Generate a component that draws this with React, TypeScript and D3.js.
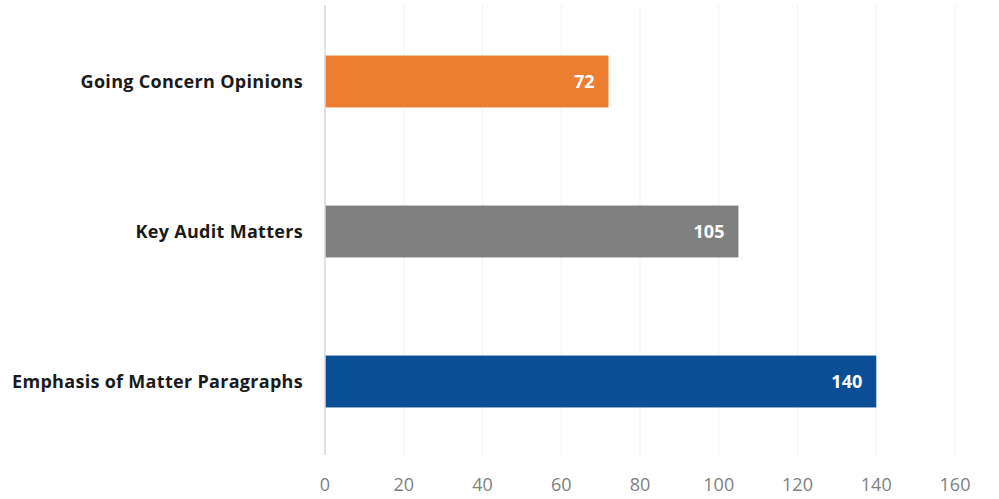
import React from "react";
import * as d3 from "d3";

const categories = ["Going Concern Opinions", "Key Audit Matters", "Emphasis of Matter Paragraphs"];
const values = [72, 105, 140];
const colors = ["#ED7D31", "#808080", "#0A4F95"];
const ticks = [0, 20, 40, 60, 80, 100, 120, 140, 160];

export default function App() {
  const W = 999, H = 499;
  const x = d3.scaleLinear().domain([0, 160]).range([325, 955]);
  const y = d3.scaleBand().domain(categories).range([6.5, 456.5]).paddingInner(0.654).paddingOuter(0.327);
  const font = "'Open Sans', 'Liberation Sans', sans-serif";
  return (
    <svg width={W} height={H} style={{ position: "absolute", left: 0, top: 0, background: "#fff" }} fontFamily={font}>
      {ticks.slice(1).map((t) => (
        <line key={"g" + t} x1={x(t)} x2={x(t)} y1={5} y2={455} stroke="#F3F3F3" strokeWidth={1} />
      ))}
      {categories.map((c, i) => (
        <g key={c}>
          <rect x={x(0)} y={y(c)!} width={x(values[i]) - x(0)} height={y.bandwidth()} fill={colors[i]} />
          <text x={x(values[i]) - 14} y={y(c)! + y.bandwidth() / 2} dy="0.35em" textAnchor="end" fill="#fff" fontWeight={700} fontSize={18}>
            {values[i]}
          </text>
          <text x={303} y={y(c)! + y.bandwidth() / 2} dy="0.35em" textAnchor="end" fill="#1a1a1a" fontWeight={700} fontSize={18} letterSpacing={0.3}>
            {c}
          </text>
        </g>
      ))}
      <line x1={x(0)} x2={x(0)} y1={5} y2={455} stroke="#D9D9D9" strokeWidth={1.5} />
      {ticks.map((t) => (
        <text key={"t" + t} x={x(t)} y={485} dy="0.35em" textAnchor="middle" fill="#7F7F7F" fontSize={18}>
          {t}
        </text>
      ))}
    </svg>
  );
}
